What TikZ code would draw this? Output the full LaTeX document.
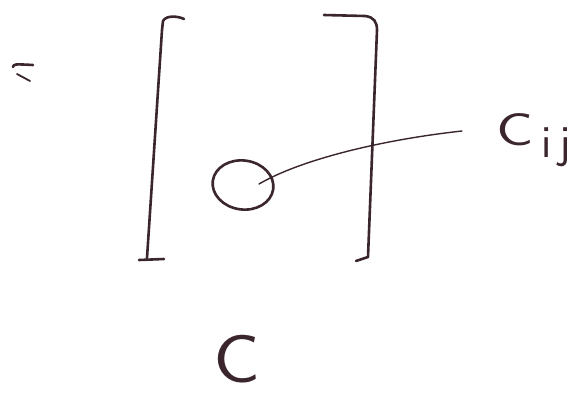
\documentclass[tikz,border=0pt]{standalone}
\usetikzlibrary{shapes.geometric}
\definecolor{ink}{RGB}{58,38,44}
\begin{document}
\begin{tikzpicture}[x=1pt,y=-1pt,
  pen/.style={draw=ink,line width=2.6pt,line cap=round,line join=round},
  thinpen/.style={draw=ink,line width=1.4pt,line cap=round},
  lab/.style={text=ink,inner sep=0pt,font=\sffamily}]
\useasboundingbox[fill=white] (0,0) rectangle (587,394);
% equals sign fragment
\draw[pen] (13,67) .. controls (14,64) .. (33,65);
\draw[pen,line width=1.8pt] (17,74) -- (30,81);
% left bracket
\draw[pen] (184,19) .. controls (178,16) and (166,15) .. (163,21) -- (162,30) -- (147,258);
\draw[pen] (139,260) -- (164,259);
% right bracket
\draw[pen] (324,15) -- (365,16) .. controls (374,17) and (377,22) .. (377,30) -- (368,257) -- (356,261);
% element circle
\node[pen,ellipse,minimum width=61pt,minimum height=49pt,rotate=-8,inner sep=0pt] (cell) at (243,185) {};
\coordinate (start) at (259,184);
% labels
\node[lab,anchor=base west] (lbl) at (496,145) {\fontsize{46}{50}\selectfont\scalebox{1.35}[1]{C}\hspace{8pt}\raisebox{-12pt}{\fontsize{46}{48}\selectfont i\hspace{8pt}j}};
\coordinate (lblend) at (462,131);
\node[lab,anchor=base west] (mat) at (213,382) {\fontsize{68}{72}\selectfont\scalebox{1.15}[1]{C}};
% connector
\draw[thinpen] (start) .. controls (300,160) and (380,140) .. (lblend);
\end{tikzpicture}
\end{document}
